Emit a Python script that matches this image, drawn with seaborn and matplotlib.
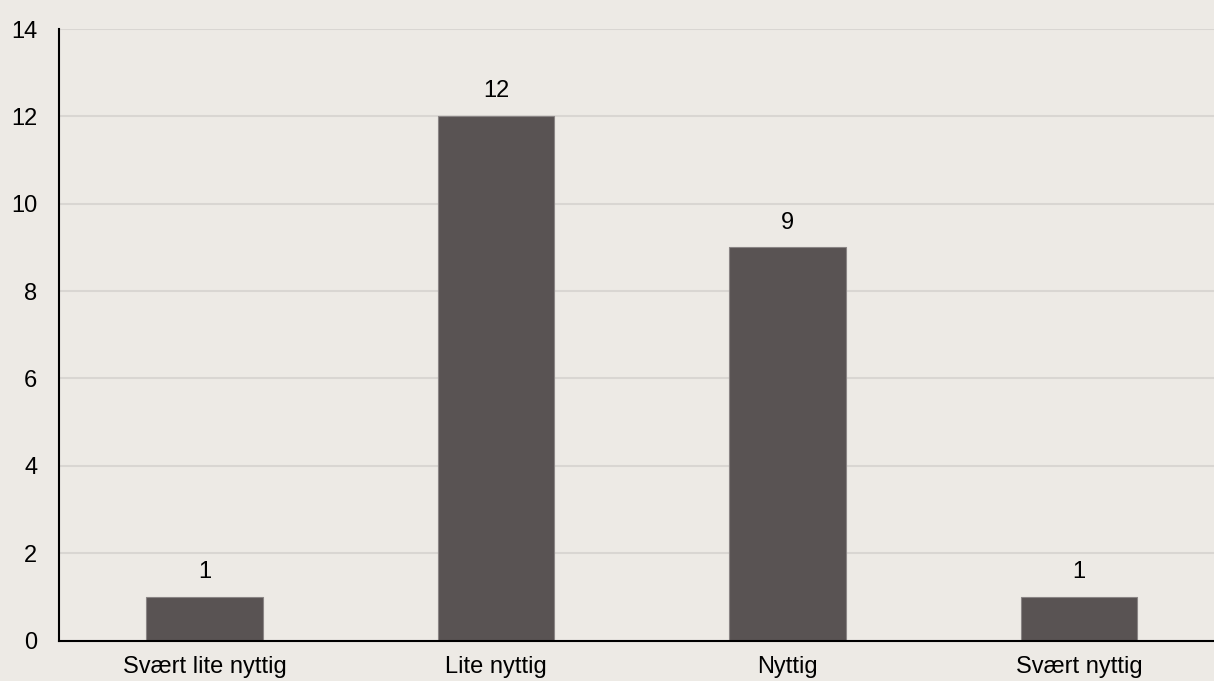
import matplotlib
matplotlib.use("Agg")
import matplotlib.pyplot as plt
import seaborn as sns
import pandas as pd

categories = ["Svært lite nyttig", "Lite nyttig", "Nyttig", "Svært nyttig"]
values = [1, 12, 9, 1]
y_ticks = [0, 2, 4, 6, 8, 10, 12, 14]

sns.set_theme(style="white")
plt.rcParams['font.family'] = ['Liberation Sans', 'DejaVu Sans']

bg = "#EDEAE5"
W, H = 1214, 681
fig = plt.figure(figsize=(W / 100, H / 100), dpi=100, facecolor=bg)
ax = fig.add_axes([59.0 / W, (H - 640.5) / H, 1165.6 / W, 611.5 / H])
ax.set_facecolor(bg)

df = pd.DataFrame({"cat": categories, "val": values})
sns.barplot(data=df, x="cat", y="val", ax=ax, color="#595353", width=0.4,
            saturation=1, edgecolor="#8a8585", linewidth=0.8, zorder=3)

ax.set_xlim(-0.5, 3.5)
ax.set_ylim(0, 14)
ax.set_yticks(y_ticks)
ax.yaxis.grid(True, color="#D9D6D2", linewidth=1.5, zorder=0)
ax.xaxis.grid(False)
ax.set_axisbelow(True)
for s in ["top", "right"]:
    ax.spines[s].set_visible(False)
for s in ["left", "bottom"]:
    ax.spines[s].set_color("black")
    ax.spines[s].set_linewidth(1.5)
    ax.spines[s].set_zorder(4)
ax.tick_params(axis="both", length=0, labelsize=17, labelcolor="black")
ax.tick_params(axis="y", pad=15.5)
ax.tick_params(axis="x", pad=11.5)
ax.set_xlabel("")
ax.set_ylabel("")

for c in ax.containers:
    ax.bar_label(c, labels=[str(v) for v in values], padding=10, fontsize=17, color="black")

fig.savefig("out.png", dpi=100, facecolor=bg)
